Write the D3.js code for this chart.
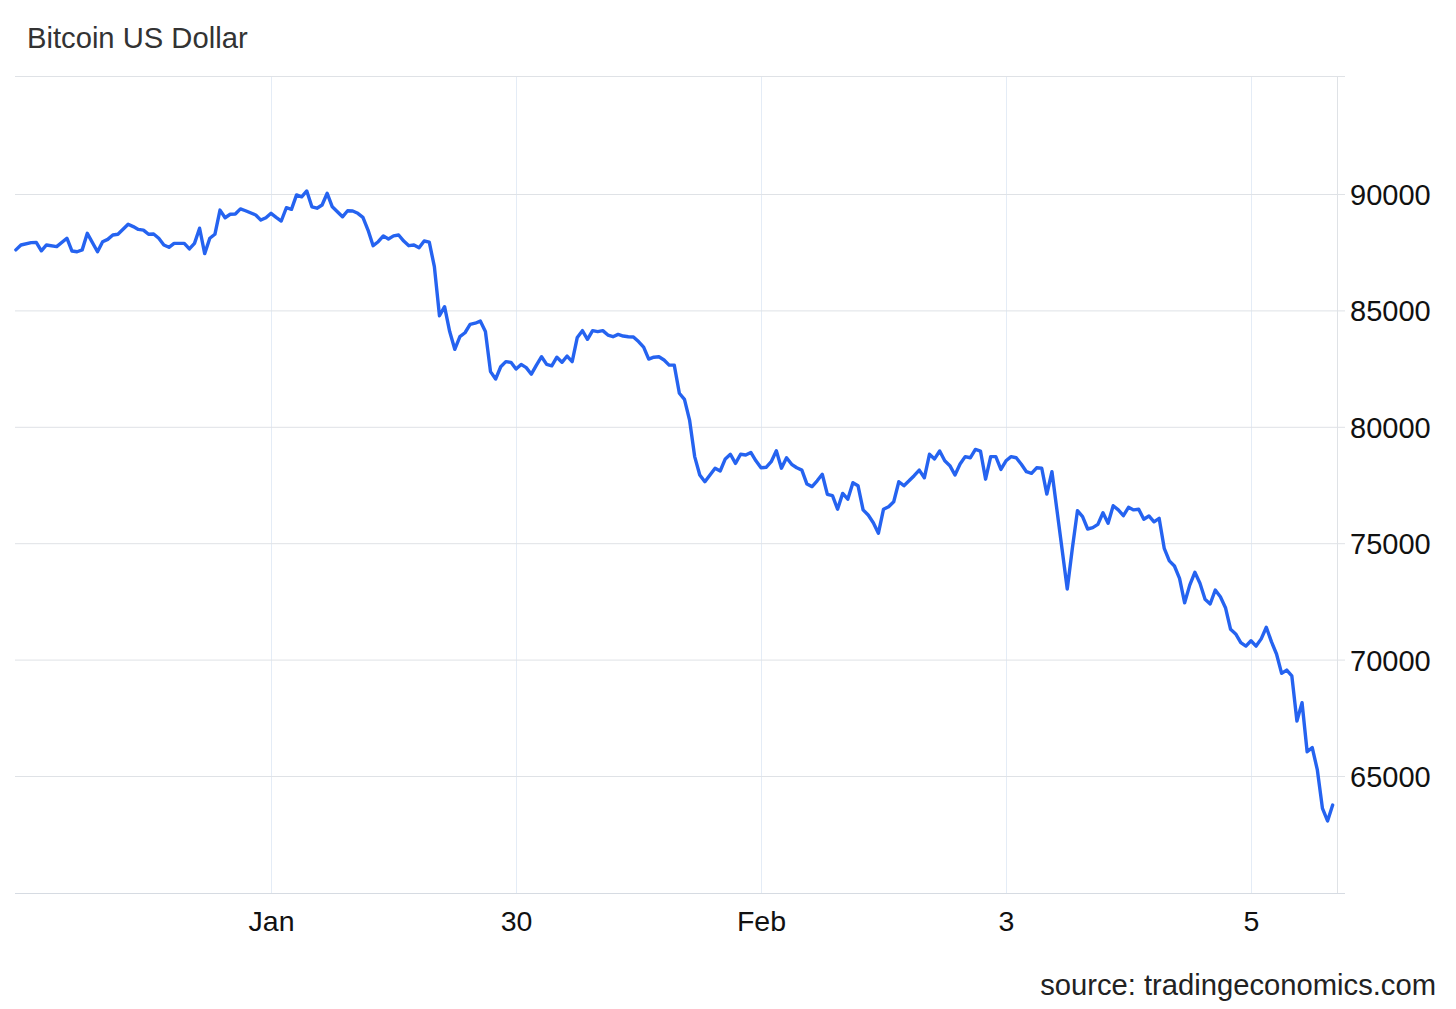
<!DOCTYPE html>
<html>
<head>
<meta charset="utf-8">
<script src="https://cdn.jsdelivr.net/npm/d3@7"></script>
<style>
  html, body { margin: 0; padding: 0; background: #ffffff; }
  svg { display: block; font-family: Arial, "Liberation Sans", sans-serif; }
</style>
</head>
<body>
<svg id="chart" width="1456" height="1009"></svg>
<script>
// ---------- data ----------
const chartTitle = "Bitcoin US Dollar";
const sourceText = "source: tradingeconomics.com";
const startTime = "2026-01-25T22:00:00";   // first observation
const hourOffsets = [
  0,1,3,4,5,6,8,10,11,12,13,14,16,17,18,19,20,22,23,24,25,26,27,28,29,30,31,33,34,35,
  36,37,38,39,40,41,42,43,44,45,47,48,49,50,51,52,53,54,55,56,57,58,59,60,61,62,63,
  64,65,66,67,68,69,70,71,72,73,74,75,76,77,78,79,80,81,82,83,84,85,86,87,88,89,90,
  91,92,93,94,95,96,97,98,99,100,101,102,103,104,105,106,107,108,109,110,111,112,113,
  114,115,116,117,118,119,120,121,122,123,124,125,126,127,128,129,130,131,132,133,134,
  135,136,137,138,139,140,141,142,143,144,145,146,147,148,149,150,151,152,153,154,155,
  156,157,158,159,160,161,162,163,164,165,166,167,168,169,170,171,172,173,174,175,176,
  177,178,179,180,181,182,183,184,185,186,187,188,189,190,191,192,193,194,195,196,197,
  198,199,200,201,202,203,206,207,208,209,210,211,212,213,214,215,216,217,218,219,220,
  221,222,223,224,225,226,227,228,229,230,231,232,233,234,235,236,237,238,239,240,241,
  242,243,244,245,246,247,248,249,250,251,252,253,254,255,256,257,258
];
const prices = [
  87600,87810,87910,87920,87560,87810,87740,88100,87550,87520,87600,88310,87520,87950,
  88050,88240,88270,88700,88600,88480,88450,88270,88280,88100,87810,87710,87880,87880,
  87640,87880,88530,87440,88100,88270,89310,88980,89130,89140,89360,89280,89100,88880,
  88980,89170,89000,88840,89410,89340,89960,89880,90130,89450,89390,89530,90030,89450,89240,
  89020,89280,89270,89170,89000,88450,87780,87950,88200,88070,88200,88240,87980,87780,
  87810,87690,87980,87930,86880,84770,85160,84090,83330,83870,84040,84400,84450,
  84540,84090,82370,82050,82580,82800,82770,82480,82680,82540,82260,82650,83010,82680,
  82620,82990,82770,83040,82800,83840,84130,83760,84130,84090,84130,83940,83870,83970,
  83900,83870,83860,83660,83420,82910,82990,83010,82870,82650,82650,81440,81180,80290,
  78720,77930,77640,77930,78220,78100,78620,78820,78430,78820,78790,78900,78540,78240,
  78260,78500,78970,78220,78670,78390,78240,78140,77540,77430,77680,77960,77100,77040,
  76460,77140,76890,77600,77470,76430,76210,75880,75430,76460,76570,76780,77640,77470,
  77680,77900,78140,77810,78820,78620,78960,78540,78330,77930,78400,78720,78670,79030,
  78960,77750,78720,78720,78170,78540,78720,78670,78390,78070,78000,78240,78220,77110,
  78070,73030,74780,76400,76140,75610,75670,75810,76310,75860,76610,76430,76180,76540,
  76430,76460,76030,76170,75920,76070,74780,74240,74020,73490,72440,73200,73750,73280,
  72590,72390,72990,72700,72230,71300,71100,70730,70580,70810,70580,70890,71390,70770,
  70240,69410,69550,69300,67360,68150,66040,66220,65260,63610,63070,63750
];
const yTickValues = [65000, 70000, 75000, 80000, 85000, 90000];
const xTickDates = ["2026-01-28", "2026-01-30", "2026-02-01", "2026-02-03", "2026-02-05"];
const xTickLabels = ["Jan", "30", "Feb", "3", "5"];

// ---------- layout ----------
const plotLeft = 15, plotRight = 1337, plotTop = 76, plotBottom = 893;
const tickExtend = 8;

const svg = d3.select("#chart");
const parseDT = d3.timeParse("%Y-%m-%dT%H:%M:%S");
const parseD = d3.timeParse("%Y-%m-%d");
const t0 = parseDT(startTime);
const data = hourOffsets.map((h, i) => ({ date: d3.timeHour.offset(t0, h), value: prices[i] }));

const x = d3.scaleTime()
  .domain([new Date(2026, 0, 25, 21, 50), new Date(2026, 1, 5, 16, 51)])
  .range([plotLeft, plotRight]);
const y = d3.scaleLinear()
  .domain([59974, 95069])
  .range([plotBottom, plotTop]);

// vertical gridlines
const xTicks = xTickDates.map(parseD);
svg.append("g")
  .selectAll("line")
  .data(xTicks)
  .join("line")
  .attr("x1", d => Math.round(x(d)) + 0.5)
  .attr("x2", d => Math.round(x(d)) + 0.5)
  .attr("y1", plotTop)
  .attr("y2", plotBottom)
  .attr("stroke", "#e4ecf6")
  .attr("stroke-width", 1);

// horizontal gridlines (y axis on the right)
const yAxis = d3.axisRight(y)
  .tickValues(yTickValues)
  .tickSize(-(plotRight - plotLeft))
  .tickPadding(0)
  .tickFormat(d3.format("d"));
const gy = svg.append("g")
  .attr("transform", `translate(${plotRight},0)`)
  .call(yAxis);
gy.select(".domain").remove();
gy.selectAll(".tick line")
  .attr("x2", -(plotRight - plotLeft))
  .attr("x1", tickExtend)
  .attr("stroke", "#dfe2e6")
  .attr("stroke-width", 1);
gy.selectAll(".tick text")
  .attr("x", 13)
  .attr("dy", "0.36em")
  .attr("fill", "#111")
  .style("font-size", "29px")
  .style("font-family", "Arial, 'Liberation Sans', sans-serif");

// frame lines: top, bottom, right
svg.append("line")
  .attr("x1", plotLeft).attr("x2", plotRight + tickExtend)
  .attr("y1", plotTop + 0.5).attr("y2", plotTop + 0.5)
  .attr("stroke", "#dfe2e6");
svg.append("line")
  .attr("x1", plotLeft).attr("x2", plotRight + tickExtend)
  .attr("y1", plotBottom + 0.5).attr("y2", plotBottom + 0.5)
  .attr("stroke", "#d6dbe2");
svg.append("line")
  .attr("x1", plotRight + 0.5).attr("x2", plotRight + 0.5)
  .attr("y1", plotTop).attr("y2", plotBottom)
  .attr("stroke", "#dfe2e6");

// x axis labels
const xAxis = d3.axisBottom(x)
  .tickValues(xTicks)
  .tickSize(0)
  .tickPadding(0)
  .tickFormat((d, i) => xTickLabels[i]);
const gx = svg.append("g")
  .attr("transform", `translate(0,${plotBottom})`)
  .call(xAxis);
gx.select(".domain").remove();
gx.selectAll(".tick text")
  .attr("y", 38)
  .attr("dy", 0)
  .attr("fill", "#111")
  .style("font-size", "28.5px")
  .style("font-family", "Arial, 'Liberation Sans', sans-serif");

// price line
const line = d3.line()
  .x(d => x(d.date))
  .y(d => y(d.value));
svg.append("path")
  .datum(data)
  .attr("d", line)
  .attr("fill", "none")
  .attr("stroke", "#2563f0")
  .attr("stroke-width", 3.4)
  .attr("stroke-linejoin", "round")
  .attr("stroke-linecap", "round");

// title
svg.append("text")
  .attr("x", 27)
  .attr("y", 48)
  .attr("fill", "#333")
  .style("font-size", "29.2px")
  .text(chartTitle);

// source
svg.append("text")
  .attr("x", 1436)
  .attr("y", 995)
  .attr("text-anchor", "end")
  .attr("fill", "#222")
  .style("font-size", "29.2px")
  .text(sourceText);
</script>
</body>
</html>
